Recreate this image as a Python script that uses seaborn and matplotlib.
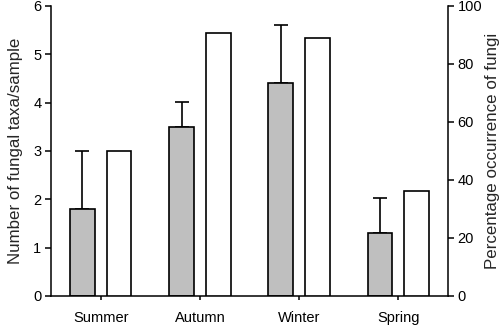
import matplotlib
matplotlib.use("Agg")
import matplotlib.pyplot as plt
import seaborn as sns
import pandas as pd
import numpy as np

seasons = ["Summer", "Autumn", "Winter", "Spring"]
taxa_per_sample = [1.8, 3.5, 4.4, 1.3]
taxa_error = [1.2, 0.52, 1.2, 0.72]
percent_occurrence = [50.0, 90.6, 88.9, 36.3]

series_levels = ["taxa", "percent"]

sns.set_theme(style="ticks")
plt.rcParams["font.family"] = ["Liberation Sans", "DejaVu Sans"]

fig = plt.figure(figsize=(5.0, 3.27), dpi=100)
ax = fig.add_axes([0.102, 0.095, 0.794, 0.887])
ax2 = ax.twinx()

df_taxa = pd.DataFrame({"season": seasons, "value": taxa_per_sample, "series": "taxa"})
df_pct = pd.DataFrame({"season": seasons, "value": percent_occurrence, "series": "percent"})

common = dict(x="season", y="value", hue="series", hue_order=series_levels,
              order=seasons, dodge=True, width=0.74, gap=0.32,
              edgecolor="black", linewidth=1.2, errorbar=None, legend=False)

sns.barplot(data=df_taxa, ax=ax, palette={"taxa": "#bfbfbf", "percent": "white"}, **common)
sns.barplot(data=df_pct, ax=ax2, palette={"taxa": "#bfbfbf", "percent": "white"}, **common)

# error bars (upper only) on grey bars, placed at the bars seaborn drew
bars = sorted([p for p in ax.patches if p.get_height() > 0], key=lambda p: p.get_x())
xs = [p.get_x() + p.get_width() / 2 for p in bars]
ax.errorbar(xs, taxa_per_sample, yerr=[np.zeros(len(taxa_error)), taxa_error],
            fmt="none", ecolor="black", elinewidth=1.2, capsize=4.7, capthick=1.2, zorder=0)

ax.set_xlim(-0.5, 3.5)
ax.set_ylim(0, 6)
ax.set_yticks([0, 1, 2, 3, 4, 5, 6])
ax2.set_ylim(0, 100)
ax2.set_yticks([0, 20, 40, 60, 80, 100])

ax.set_xlabel("")
ax.set_ylabel("Number of fungal taxa/sample", fontsize=12.2, labelpad=7)
ax2.set_ylabel("Percentage occurrence of fungi", fontsize=12.2, labelpad=2)

for a in (ax, ax2):
    a.spines["top"].set_visible(False)
    for s in ("left", "right", "bottom"):
        a.spines[s].set_linewidth(1.1)
        a.spines[s].set_color("black")
    a.tick_params(axis="both", colors="black", width=1.1, length=4, labelsize=10.5, pad=3)
    a.grid(False)

ax.tick_params(axis="x", length=3, pad=8)
ax.spines["right"].set_visible(False)
ax2.spines["left"].set_visible(False)
ax2.spines["bottom"].set_visible(False)

fig.savefig("out.png", dpi=100)
